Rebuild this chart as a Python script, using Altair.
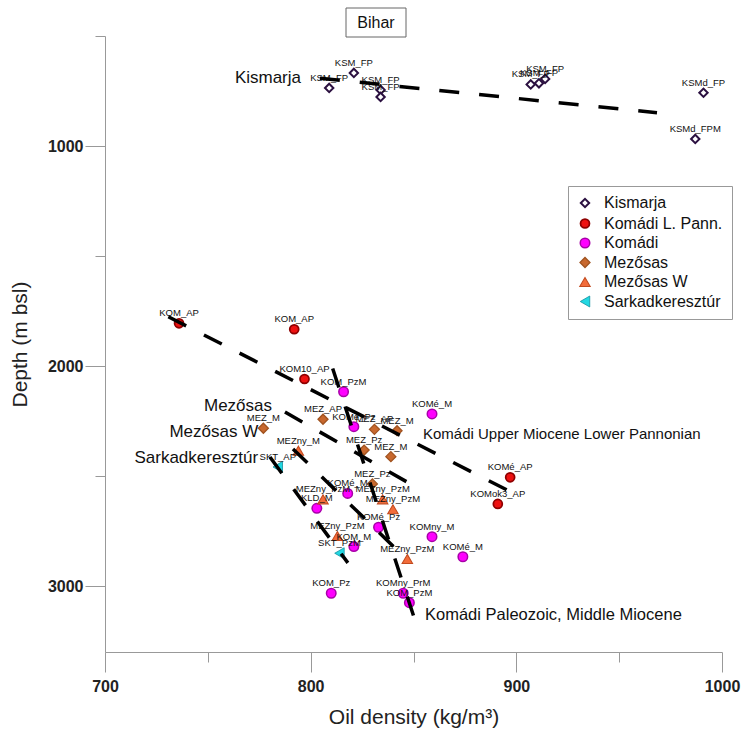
import altair as alt
import pandas as pd

FONT = "Liberation Sans"

series_names = ["Kismarja", "Komádi L. Pann.", "Komádi", "Mezősas", "Mezősas W", "Sarkadkeresztúr"]
series_shapes = ["diamond", "circle", "circle", "diamond", "triangle-up", "triangle-left"]
series_fill = ["#ffffff", "#ee1111", "#ff00ff", "#c8682e", "#f26c3a", "#22d8e2"]
series_stroke = ["#2b1040", "#8e0000", "#a800a8", "#a0521f", "#c24a1e", "#1090a0"]
series_strokew = [2.0, 0.8, 0.8, 0.5, 0.5, 0.5]
series_size = [70, 120, 120, 115, 105, 105]

# Kismarja
ksm_density = [809, 821, 834, 834, 907, 911, 914, 991, 987]
ksm_depth = [736, 668, 745, 777, 720, 715, 695, 758, 968]
ksm_label = ["KSM_FP", "KSM_FP", "KSM_FP", "KSM_FP", "KSM_FP", "KSM_FP", "KSM_FP", "KSMd_FP", "KSMd_FPM"]

# Komádi L. Pann.
klp_density = [736, 792, 797, 897, 891]
klp_depth = [1806, 1833, 2059, 2506, 2627]
klp_label = ["KOM_AP", "KOM_AP", "KOM10_AP", "KOMé_AP", "KOMok3_AP"]

# Komádi
kom_density = [816, 859, 821, 818, 803, 833, 859, 821, 874, 810, 845, 848]
kom_depth = [2117, 2218, 2276, 2579, 2647, 2733, 2776, 2821, 2867, 3033, 3033, 3076]
kom_label = ["KOM_PzM", "KOMé_M", "KOMé_Pz", "KOMé_M", "KLD_M", "KOMé_Pz", "KOMny_M",
             "KOM_M", "KOMé_M", "KOM_Pz", "KOMny_PrM", "KOM_PzM"]

# Mezősas
mez_density = [777, 806, 831, 842, 826, 839, 830]
mez_depth = [2283, 2242, 2288, 2294, 2382, 2412, 2536]
mez_label = ["MEZ_M", "MEZ_AP", "MEZ_AP", "MEZ_M", "MEZ_Pz", "MEZ_M", "MEZ_Pz"]

# Mezősas W
mezw_density = [794, 806, 835, 840, 813, 847]
mezw_depth = [2385, 2606, 2606, 2651, 2773, 2877]
mezw_label = ["MEZny_M", "MEZny_PzM", "MEZny_PzM", "MEZny_PzM", "MEZny_PzM", "MEZny_PzM"]

# Sarkadkeresztúr
skt_density = [784, 814]
skt_depth = [2459, 2851]
skt_label = ["SKT_AP", "SKT_PzM"]

# dashed trend lines (start, end)
trend_names = ["Kismarja", "Komádi Upper", "Komádi Paleozoic", "Mezősas", "Mezősas W", "Sarkadkeresztúr"]
trend_x0 = [804.5, 730.8, 810.7, 787.5, 791.4, 780.2]
trend_y0 = [692, 1776, 2011, 2209, 2377, 2414]
trend_x1 = [968.4, 899.3, 850.7, 846.8, 841.0, 818.1]
trend_y1 = [849, 2582, 3155, 2527, 2827, 2895]

# annotations
ann_right_text = ["Kismarja", "Mezősas", "Mezősas W", "Sarkadkeresztúr"]
ann_right_x = [795.3, 781.2, 774.5, 774.5]
ann_right_y = [691, 2182, 2299, 2420]
ann_upper_text = ["Komádi Upper Miocene Lower Pannonian"]
ann_upper_x = [854.6]
ann_upper_y = [2309]
ann_pal_text = ["Komádi Paleozoic, Middle Miocene"]
ann_pal_x = [855.6]
ann_pal_y = [3132]

x_ticks = [700, 750, 800, 850, 900, 950, 1000]
y_ticks = [500, 1000, 1500, 2000, 2500, 3000]

rows = []
for name, dens, dep, lab in [
    (series_names[0], ksm_density, ksm_depth, ksm_label),
    (series_names[1], klp_density, klp_depth, klp_label),
    (series_names[2], kom_density, kom_depth, kom_label),
    (series_names[3], mez_density, mez_depth, mez_label),
    (series_names[4], mezw_density, mezw_depth, mezw_label),
    (series_names[5], skt_density, skt_depth, skt_label),
]:
    for d, z, l in zip(dens, dep, lab):
        rows.append({"series": name, "density": d, "depth": z, "label": l})
pts = pd.DataFrame(rows)

trows = []
for n, a, b, c, e in zip(trend_names, trend_x0, trend_y0, trend_x1, trend_y1):
    trows.append({"name": n, "density": a, "depth": b, "ord": 0})
    trows.append({"name": n, "density": c, "depth": e, "ord": 1})
trends = pd.DataFrame(trows)

ann_r = pd.DataFrame({"text": ann_right_text, "density": ann_right_x, "depth": ann_right_y})
ann_u = pd.DataFrame({"text": ann_upper_text, "density": ann_upper_x, "depth": ann_upper_y})
ann_p = pd.DataFrame({"text": ann_pal_text, "density": ann_pal_x, "depth": ann_pal_y})
title_df = pd.DataFrame({"t": ["Bihar"]})

xscale = alt.Scale(domain=[700, 1000], nice=False, zero=False)
yscale = alt.Scale(domain=[500, 3300], nice=False, zero=False, reverse=True)

xaxis = alt.Axis(
    values=x_ticks, format="d", labelFlush=False,
    labelExpr="datum.value % 100 == 0 ? datum.label : ''",
    tickSize={"condition": {"test": "datum.value % 100 == 0", "value": 20}, "value": 10},
    labelPadding=6, labelFont=FONT, labelFontSize=16, labelFontWeight="bold", labelColor="#222222",
    domainColor="#999999", tickColor="#999999", grid=False,
    title="Oil density (kg/m³)", titleFont=FONT, titleFontSize=21, titleFontWeight="normal",
    titleColor="#222222", titleX=308.5, titleY=65, titleBaseline="middle",
)
yaxis = alt.Axis(
    values=y_ticks, format="d", labelFlush=False,
    labelExpr="datum.value % 1000 == 0 ? datum.label : ''",
    tickSize={"condition": {"test": "datum.value % 1000 == 0", "value": 20}, "value": 10},
    labelPadding=2, labelFont=FONT, labelFontSize=16, labelFontWeight="bold", labelColor="#222222",
    domainColor="#999999", tickColor="#999999", grid=False,
    title="Depth (m bsl)", titleFont=FONT, titleFontSize=21, titleFontWeight="normal",
    titleColor="#222222", titleX=-85, titleY=308, titleAngle=-90, titleBaseline="middle",
)

leg = alt.Legend(
    title=None, orient="none", legendX=463, legendY=150,
    labelFont=FONT, labelFontSize=16, labelColor="#111111",
    padding=9, rowPadding=3.5, labelOffset=11,
    strokeColor="#999999", fillColor="#ffffff",
)

points = alt.Chart(pts).mark_point(filled=True, opacity=1).encode(
    x=alt.X("density:Q", scale=xscale, axis=xaxis),
    y=alt.Y("depth:Q", scale=yscale, axis=yaxis),
    shape=alt.Shape("series:N", scale=alt.Scale(domain=series_names, range=series_shapes), legend=leg),
    fill=alt.Fill("series:N", scale=alt.Scale(domain=series_names, range=series_fill), legend=leg),
    stroke=alt.Stroke("series:N", scale=alt.Scale(domain=series_names, range=series_stroke), legend=leg),
    strokeWidth=alt.StrokeWidth("series:N", scale=alt.Scale(domain=series_names, range=series_strokew), legend=leg),
    size=alt.Size("series:N", scale=alt.Scale(domain=series_names, range=series_size), legend=leg),
)

labels = alt.Chart(pts).mark_text(
    font=FONT, fontSize=9.5, color="#111111", align="center", baseline="alphabetic", dy=-7
).encode(
    x=alt.X("density:Q", scale=xscale),
    y=alt.Y("depth:Q", scale=yscale),
    text="label:N",
)

lines = alt.Chart(trends).mark_line(
    color="black", strokeWidth=3.5, strokeDash=[20, 20], strokeCap="butt"
).encode(
    x=alt.X("density:Q", scale=xscale),
    y=alt.Y("depth:Q", scale=yscale),
    detail="name:N",
    order="ord:Q",
)

ann_right = alt.Chart(ann_r).mark_text(
    font=FONT, fontSize=17, color="#111111", align="right", baseline="middle"
).encode(
    x=alt.X("density:Q", scale=xscale),
    y=alt.Y("depth:Q", scale=yscale),
    text="text:N",
)
ann_upper = alt.Chart(ann_u).mark_text(
    font=FONT, fontSize=15, color="#111111", align="left", baseline="middle"
).encode(
    x=alt.X("density:Q", scale=xscale),
    y=alt.Y("depth:Q", scale=yscale),
    text="text:N",
)
ann_pal = alt.Chart(ann_p).mark_text(
    font=FONT, fontSize=16.5, color="#111111", align="left", baseline="middle"
).encode(
    x=alt.X("density:Q", scale=xscale),
    y=alt.Y("depth:Q", scale=yscale),
    text="text:N",
)

title_box = alt.Chart(title_df).mark_rect(fill="white", stroke="#666666", strokeWidth=1).encode(
    x=alt.value(241), x2=alt.value(301), y=alt.value(-28), y2=alt.value(1)
)
title_txt = alt.Chart(title_df).mark_text(
    font=FONT, fontSize=16, color="#111111", align="center", baseline="middle"
).encode(x=alt.value(271), y=alt.value(-13.5), text="t:N")

chart = alt.layer(points, labels, lines, ann_right, ann_upper, ann_pal, title_box, title_txt).properties(
    width=617, height=616,
    autosize=alt.AutoSizeParams(type="none"),
    padding={"left": 105, "top": 36, "right": 20, "bottom": 83},
).configure_view(stroke=None)

chart.save("out.html", embed_options={"renderer": "svg", "actions": False})
